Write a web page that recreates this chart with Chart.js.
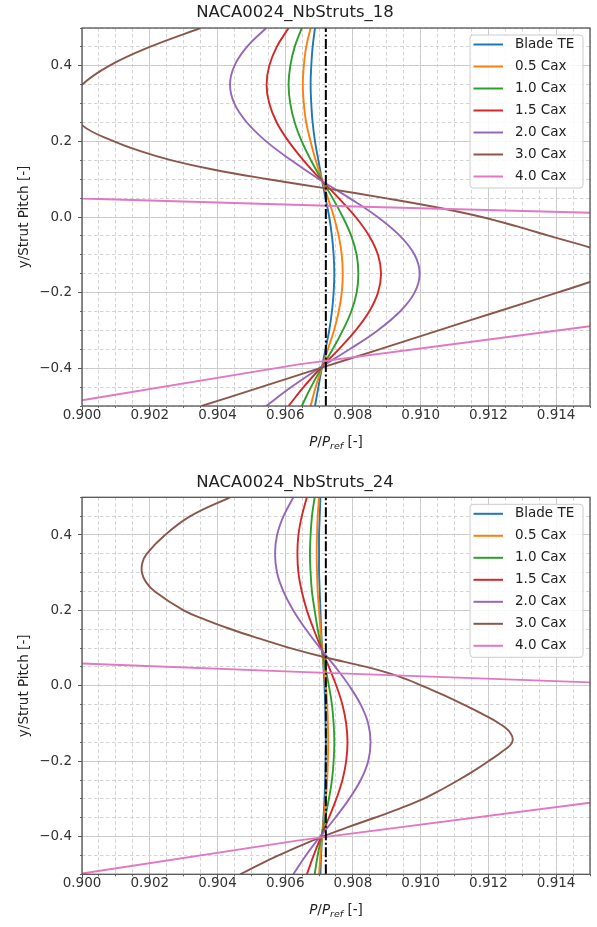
<!DOCTYPE html>
<html><head><meta charset="utf-8">
<script src="https://cdn.jsdelivr.net/npm/chart.js@4/dist/chart.umd.min.js"></script>
<style>
html,body{margin:0;padding:0;background:#fff;}
canvas{display:block;}
</style></head>
<body>
<canvas id="c1" width="597" height="460"></canvas>
<canvas id="c2" width="597" height="467"></canvas>
<script>
const FONT = "'DejaVu Sans', sans-serif";
const seriesLabels = ['Blade TE','0.5 Cax','1.0 Cax','1.5 Cax','2.0 Cax','3.0 Cax','4.0 Cax'];
const seriesColors = ['#1f77b4','#ff7f0e','#2ca02c','#d62728','#9467bd','#8c564b','#e377c2'];
const xTicks = [0.900,0.902,0.904,0.906,0.908,0.910,0.912,0.914];
const yTicks = [-0.4,-0.2,0.0,0.2,0.4];

// shared y/Strut Pitch samples
const yPitch = [-0.5,-0.45,-0.4,-0.35,-0.3,-0.25,-0.2,-0.15,-0.1,-0.05,0,0.05,0.1,0.15,0.2,0.25,0.3,0.35,0.4,0.45,0.5];

// NACA0024_NbStruts_18 : P/Pref at each yPitch
const s18_bladeTE = [0.90688,0.90698,0.90708,0.90719,0.90730,0.90738,0.90743,0.90745,0.90743,0.90738,0.90730,0.90719,0.90708,0.90698,0.90688,0.90681,0.90677,0.90675,0.90677,0.90681,0.90688];
const s18_cax05 = [0.90675,0.90690,0.90708,0.90726,0.90744,0.90758,0.90767,0.90770,0.90767,0.90758,0.90744,0.90726,0.90708,0.90690,0.90675,0.90662,0.90655,0.90652,0.90655,0.90662,0.90675];
const s18_cax10 = [0.90649,0.90676,0.90707,0.90740,0.90770,0.90795,0.90811,0.90816,0.90811,0.90795,0.90770,0.90740,0.90707,0.90676,0.90649,0.90628,0.90615,0.90610,0.90615,0.90628,0.90649];
const s18_cax15 = [0.90610,0.90654,0.90704,0.90758,0.90808,0.90848,0.90874,0.90883,0.90874,0.90848,0.90808,0.90758,0.90704,0.90654,0.90610,0.90575,0.90553,0.90545,0.90553,0.90575,0.90610];
const s18_cax20 = [0.90544,0.90618,0.90700,0.90790,0.90873,0.90939,0.90982,0.90997,0.90982,0.90939,0.90873,0.90790,0.90700,0.90618,0.90544,0.90487,0.90450,0.90437,0.90450,0.90487,0.90544];
const s18_cax30_y = [-0.5,-0.45,-0.4,-0.35,-0.3,-0.25,-0.2,-0.172,-0.15,-0.125,-0.1,-0.081,-0.05,-0.025,0,0.025,0.05,0.075,0.1,0.125,0.15,0.175,0.2,0.243,0.3,0.35,0.4,0.45,0.5];
const s18_cax30_x = [0.90353,0.90528,0.90703,0.90878,0.91053,0.91228,0.91403,0.9150,0.9156,0.9158,0.9156,0.9150,0.9138,0.91285,0.9118,0.9105,0.90895,0.90725,0.9055,0.9039,0.90265,0.9017,0.90095,0.9000,0.8996,0.9000,0.9008,0.9020,0.9035];
const s18_cax40_x = [0.8988,0.9000,0.9064,0.9110,0.9150,0.9300,0.9300,0.9150,0.9075,0.9000,0.8900,0.8850,0.8900];
const s18_cax40_y = [-0.500,-0.485,-0.390,-0.336,-0.289,-0.100,0.000,0.0114,0.029,0.049,0.100,0.300,0.500];

// NACA0024_NbStruts_24
const s24_bladeTE = [0.90704,0.90706,0.90709,0.90713,0.90716,0.90718,0.90719,0.90720,0.90719,0.90718,0.90716,0.90713,0.90709,0.90706,0.90704,0.90702,0.90700,0.90700,0.90700,0.90702,0.90704];
const s24_cax05 = [0.90700,0.90704,0.90709,0.90714,0.90720,0.90724,0.90726,0.90727,0.90726,0.90724,0.90720,0.90714,0.90709,0.90704,0.90700,0.90696,0.90694,0.90693,0.90694,0.90696,0.90700];
const s24_cax10 = [0.90687,0.90696,0.90707,0.90718,0.90729,0.90738,0.90743,0.90745,0.90743,0.90738,0.90729,0.90718,0.90707,0.90696,0.90687,0.90679,0.90675,0.90673,0.90675,0.90679,0.90687];
const s24_cax15 = [0.90664,0.90684,0.90706,0.90729,0.90751,0.90769,0.90780,0.90784,0.90780,0.90769,0.90751,0.90729,0.90706,0.90684,0.90664,0.90649,0.90639,0.90636,0.90639,0.90649,0.90664];
const s24_cax20 = [0.90624,0.90661,0.90703,0.90748,0.90789,0.90823,0.90845,0.90852,0.90845,0.90823,0.90789,0.90748,0.90703,0.90661,0.90624,0.90595,0.90576,0.90570,0.90576,0.90595,0.90624];
const s24_cax30_y = [-0.5,-0.475,-0.45,-0.425,-0.4,-0.375,-0.35,-0.325,-0.3,-0.275,-0.25,-0.225,-0.2,-0.175,-0.15,-0.125,-0.1,-0.075,-0.05,-0.025,0,0.025,0.05,0.075,0.1,0.125,0.15,0.175,0.2,0.25,0.275,0.3,0.325,0.35,0.4,0.45,0.5];
const s24_cax30_x = [0.90467,0.90522,0.90580,0.90642,0.90710,0.90785,0.90864,0.90940,0.91008,0.91062,0.91112,0.91158,0.91200,0.91240,0.91270,0.91265,0.91232,0.91183,0.91127,0.91068,0.91005,0.90935,0.90840,0.90720,0.90615,0.90525,0.90440,0.90365,0.90300,0.90215,0.90189,0.90177,0.90178,0.90191,0.90245,0.90320,0.90437];
const s24_cax40_x = [0.89985,0.9000,0.9064,0.9150,0.9300,0.9300,0.9150,0.9064,0.9000,0.8900,0.8850,0.8900];
const s24_cax40_y = [-0.500,-0.498,-0.410,-0.310,-0.100,0.000,0.009,0.037,0.059,0.100,0.300,0.500];

// reference (dash-dot) line
const refX = [0.9072,0.9072];
const refY = [-0.5,0.5];

function pts(xs, ys){ return xs.map((x,i)=>({x:x, y:ys[i]})); }

const extras = {
  id:'extras',
  afterDatasetsDraw(chart){
    const {ctx, chartArea:a} = chart;
    ctx.save();
    ctx.strokeStyle = '#555'; ctx.lineWidth = 1.3;
    ctx.strokeRect(a.left, a.top, a.right-a.left, a.bottom-a.top);
    const lw = 113, lh = 153;
    const lx = a.right - 120, ly = a.top + 7;
    ctx.beginPath();
    if (ctx.roundRect) ctx.roundRect(lx, ly, lw, lh, 3); else ctx.rect(lx, ly, lw, lh);
    ctx.fillStyle = 'rgba(255,255,255,0.85)'; ctx.fill();
    ctx.strokeStyle = '#cccccc'; ctx.lineWidth = 1; ctx.stroke();
    ctx.font = '13.5px ' + FONT; ctx.textBaseline = 'middle'; ctx.textAlign = 'left';
    seriesLabels.forEach((lab,i)=>{
      const yy = ly + 9.5 + 22*i;
      ctx.strokeStyle = seriesColors[i]; ctx.lineWidth = 2;
      ctx.beginPath(); ctx.moveTo(lx+3.5, yy); ctx.lineTo(lx+33, yy); ctx.stroke();
      ctx.fillStyle = '#222'; ctx.fillText(lab, lx+45, yy);
    });
    const parts = [
      {t:'P', f:'italic 13.5px '+FONT, dy:0},
      {t:'/', f:'13.5px '+FONT, dy:0},
      {t:'P', f:'italic 13.5px '+FONT, dy:0},
      {t:'ref', f:'italic 9.5px '+FONT, dy:3},
      {t:' [-]', f:'13.5px '+FONT, dy:0}
    ];
    let tw = 0;
    parts.forEach(p=>{ ctx.font = p.f; p.w = ctx.measureText(p.t).width; tw += p.w; });
    let x0 = (a.left + a.right)/2 - tw/2;
    const by = a.bottom + 40;
    ctx.fillStyle = '#222'; ctx.textBaseline = 'alphabetic';
    parts.forEach(p=>{ ctx.font = p.f; ctx.fillText(p.t, x0, by + p.dy); x0 += p.w; });
    ctx.restore();
  }
};

function build(id, title, curves, brownX, brownY, pinkX, pinkY, geo){
  const datasets = [];
  datasets.push({label:'ref', data:pts(refX, refY), borderColor:'#000', borderWidth:2,
    borderDash:[10,2.5,2,2.5], tension:0, order:0});
  curves.forEach((xs,i)=>{
    datasets.push({label:seriesLabels[i], data:pts(xs, yPitch), borderColor:seriesColors[i],
      borderWidth:1.9, tension:0.4, order:7-i});
  });
  datasets.push({label:seriesLabels[5], data:pts(brownX, brownY), borderColor:seriesColors[5],
    borderWidth:1.9, tension:0.4, order:2});
  datasets.push({label:seriesLabels[6], data:pts(pinkX, pinkY), borderColor:seriesColors[6],
    borderWidth:1.9, tension:0, order:1});
  datasets.forEach(d=>{ d.showLine = true; d.pointRadius = 0; d.fill = false; d.clip = 0; d.xAxisID='x'; d.yAxisID='y'; });

  const H = geo.H;
  new Chart(document.getElementById(id), {
    type:'scatter',
    data:{datasets},
    options:{
      responsive:false, animation:false, devicePixelRatio:1,
      layout:{padding:{left:0, right:7, top:0, bottom:0}},
      plugins:{
        legend:{display:false}, tooltip:{enabled:false},
        title:{display:true, text:title, color:'#222',
          font:{family:FONT, size:16.5, weight:'normal'},
          padding:{top:geo.tp, bottom:geo.tb}}
      },
      scales:{
        x:{type:'linear', position:'bottom', min:0.9, max:0.915, weight:1,
          afterBuildTicks:s=>{ s.ticks = xTicks.map(v=>({value:v})); },
          ticks:{callback:v=>Number(v).toFixed(3), font:{family:FONT,size:13.5}, color:'#333',
            padding:-3, maxRotation:0, autoSkip:false},
          grid:{color:'#c8c8c8', lineWidth:1, tickLength:4, tickColor:'#555'},
          border:{display:false},
          afterFit:s=>{ s.height = H - geo.bottom; }
        },
        xm:{type:'linear', position:'bottom', min:0.9, max:0.915, weight:0,
          ticks:{display:false, stepSize:0.0005},
          grid:{color:'#cfcfcf', lineWidth:0.9, tickLength:2, tickColor:'#555'},
          border:{display:false, dash:[3.5,2.5]},
          afterFit:s=>{ s.height = 0; }
        },
        y:{type:'linear', position:'left', min:-0.5, max:0.5, weight:1,
          afterBuildTicks:s=>{ s.ticks = yTicks.map(v=>({value:v})); },
          ticks:{callback:v=>{ if (Math.abs(v)<1e-9) return '0.0'; return (v<0?'\u2212':'') + Math.abs(v).toFixed(1); },
            font:{family:FONT,size:13.5}, color:'#333', padding:6},
          grid:{color:'#c8c8c8', lineWidth:1, tickLength:4, tickColor:'#555'},
          border:{display:false},
          title:{display:true, text:'y/Strut Pitch [-]', color:'#222', font:{family:FONT,size:13.5},
            padding:{top:16.5, bottom:0}},
          afterFit:s=>{ s.width = 82; }
        },
        ym:{type:'linear', position:'left', min:-0.5, max:0.5, weight:0,
          ticks:{display:false, stepSize:0.05},
          grid:{color:'#cfcfcf', lineWidth:0.9, tickLength:2, tickColor:'#555'},
          border:{display:false, dash:[3.5,2.5]},
          afterFit:s=>{ s.width = 0; }
        }
      }
    },
    plugins:[extras]
  });
}

build('c1', 'NACA0024_NbStruts_18',
  [s18_bladeTE, s18_cax05, s18_cax10, s18_cax15, s18_cax20],
  s18_cax30_x, s18_cax30_y, s18_cax40_x, s18_cax40_y, {H:460, bottom:406, tp:3.2, tb:5});
build('c2', 'NACA0024_NbStruts_24',
  [s24_bladeTE, s24_cax05, s24_cax10, s24_cax15, s24_cax20],
  s24_cax30_x, s24_cax30_y, s24_cax40_x, s24_cax40_y, {H:467, bottom:414.3, tp:12.8, tb:4.7});
</script>
</body></html>
